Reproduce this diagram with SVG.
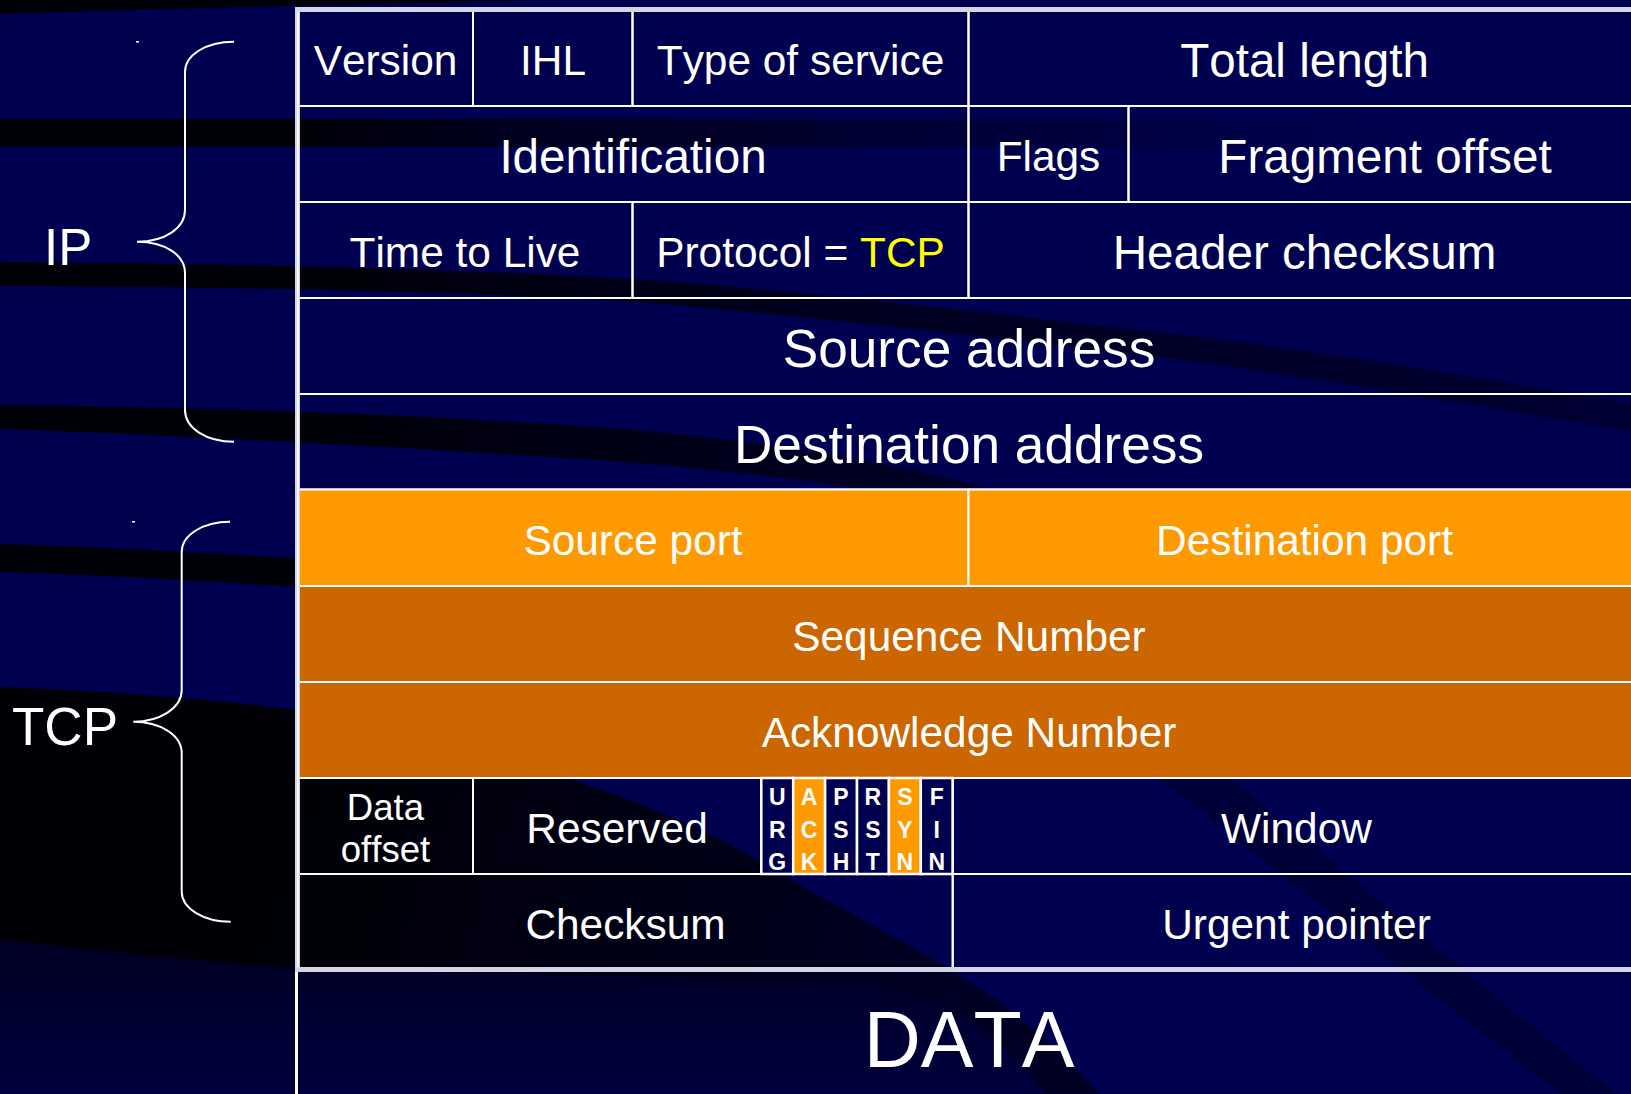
<svg xmlns="http://www.w3.org/2000/svg" width="1631" height="1094" viewBox="0 0 1631 1094">
<defs>
<style>
text{font-kerning:none}
.t{font-family:"Liberation Sans",Arial,Helvetica,sans-serif;fill:#ffffff;text-anchor:middle}
.f42{font-size:42.4px}
.f47{font-size:47.6px}
.f53{font-size:53.2px}
.fl{font-family:"Liberation Sans",Arial,Helvetica,sans-serif;font-weight:bold;font-size:23px;fill:#ffffff;text-anchor:middle}
.cell{fill:none;stroke:#ffffff;stroke-width:2}
.org{fill:#ff9900;stroke:#ffffff;stroke-width:2}
.brn{fill:#cc6600;stroke:#ffffff;stroke-width:2}
.flag{fill:#000050;stroke:#ffffff;stroke-width:2.5}
.flago{fill:#ff9900;stroke:#ffffff;stroke-width:2.5}
.brace{fill:none;stroke:#ffffff;stroke-width:2}
.lbl{font-family:"Liberation Sans",Arial,Helvetica,sans-serif;fill:#ffffff;font-size:51px}
</style>
<linearGradient id="gB" gradientUnits="userSpaceOnUse" x1="0" y1="0" x2="1400" y2="0">
<stop offset="0" stop-color="#000008" stop-opacity="1"/>
<stop offset="0.21" stop-color="#000008" stop-opacity="1"/>
<stop offset="0.35" stop-color="#000008" stop-opacity="0.7"/>
<stop offset="1" stop-color="#000008" stop-opacity="0"/>
</linearGradient>
<linearGradient id="gC" gradientUnits="userSpaceOnUse" x1="0" y1="0" x2="1640" y2="0">
<stop offset="0" stop-color="#000008" stop-opacity="1"/>
<stop offset="0.18" stop-color="#000008" stop-opacity="1"/>
<stop offset="0.4" stop-color="#000008" stop-opacity="0.75"/>
<stop offset="1" stop-color="#000008" stop-opacity="0.4"/>
</linearGradient>
<linearGradient id="gD" gradientUnits="userSpaceOnUse" x1="0" y1="0" x2="1000" y2="0">
<stop offset="0" stop-color="#000008" stop-opacity="1"/>
<stop offset="0.3" stop-color="#000008" stop-opacity="1"/>
<stop offset="1" stop-color="#000008" stop-opacity="0.55"/>
</linearGradient>
<linearGradient id="gDark" gradientUnits="userSpaceOnUse" x1="300" y1="760" x2="950" y2="1000">
<stop offset="0" stop-color="#000006"/>
<stop offset="1" stop-color="#000024"/>
</linearGradient>
<linearGradient id="gLow" gradientUnits="userSpaceOnUse" x1="0" y1="900" x2="0" y2="1094">
<stop offset="0" stop-color="#00001c"/>
<stop offset="1" stop-color="#00003e"/>
</linearGradient>
</defs>

<g id="background">
<rect x="0" y="0" width="1631" height="1094" fill="#000050"/>
<path d="M0,0 L560,0 C400,3 200,8 0,14 Z" fill="#000008"/>
<rect x="0" y="119" width="1400" height="28" fill="url(#gB)"/>
<path d="M0,262 C200,263 450,268 636,279 C800,290 1000,315 1200,337 C1400,362 1550,390 1640,405 L1640,433 C1550,418 1400,392 1200,362 C1000,338 800,315 636,302 C450,290 200,287 0,286 Z" fill="url(#gC)"/>
<path d="M0,405 C200,407 450,415 636,430 C800,445 920,468 1000,492 L880,492 C800,478 720,470 636,463 C450,450 200,436 0,429 Z" fill="url(#gD)"/>
<path d="M0,544 C100,547 200,552 320,560 L320,588 C200,581 100,575 0,572 Z" fill="#000008"/>
<path d="M0,687 C120,692 220,700 296,710 C400,725 480,750 569,779 C650,805 720,835 800,885 C870,925 930,955 990,995 C1030,1025 1070,1060 1100,1094 L0,1094 Z" fill="url(#gLow)"/>
<path d="M0,687 C120,692 220,700 296,710 C400,725 480,750 569,779 C650,805 720,835 800,885 C870,925 930,955 990,995 C1030,1025 1070,1060 1100,1094 L1045,1094 C1000,1040 960,1000 880,985 C700,975 450,975 296,968 C200,962 100,950 0,940 Z" fill="url(#gDark)"/>
<path d="M1060,700 L1135,700 L1615,1094 L1560,1094 Z" fill="#000008" opacity="0.3"/>
</g>

<g id="connectors">
<path class="brace" d="M234,41.7 C206,41.7 185,55 185,72 L185,210 C185,228 165,241.7 137,241.7 C165,241.7 185,255 185,273 L185,410 C185,428 206,441.7 234,441.7"/>
<path class="brace" d="M230,521.7 C203,521.7 181.7,535 181.7,552 L181.7,690 C181.7,708 160,721.7 133.3,721.7 C160,721.7 181.7,735 181.7,753 L181.7,891.7 C181.7,908 203,921.7 230.7,921.7"/>
<rect x="136" y="41" width="3" height="1.5" fill="#ffffff"/>
<rect x="132" y="521" width="3" height="1.5" fill="#ffffff"/>
</g>

<g id="label-ip"><text class="lbl" x="44" y="265">IP</text></g>
<g id="label-tcp"><text class="lbl" x="12" y="745" style="font-size:53px">TCP</text></g>

<g id="version"><rect class="cell" x="298" y="10" width="175" height="96"/><text class="t f42" x="385.5" y="75">Version</text></g>
<g id="ihl"><rect class="cell" x="473" y="10" width="159.5" height="96"/><text class="t f42" x="553" y="75">IHL</text></g>
<g id="tos"><rect class="cell" x="632.5" y="10" width="336" height="96"/><text class="t f42" x="800.5" y="75">Type of service</text></g>
<g id="total-length"><rect class="cell" x="968.5" y="10" width="680" height="96"/><text class="t f47" x="1304.5" y="77">Total length</text></g>

<g id="identification"><rect class="cell" x="298" y="106" width="670.5" height="96"/><text class="t f47" x="633" y="173">Identification</text></g>
<g id="flags"><rect class="cell" x="968.5" y="106" width="160" height="96"/><text class="t f42" x="1048.5" y="171">Flags</text></g>
<g id="fragment-offset"><rect class="cell" x="1128.5" y="106" width="520" height="96"/><text class="t f47" x="1385" y="173">Fragment offset</text></g>

<g id="ttl"><rect class="cell" x="298" y="202" width="334.5" height="96"/><text class="t f42" x="465" y="267">Time to Live</text></g>
<g id="protocol"><rect class="cell" x="632.5" y="202" width="336" height="96"/><text class="t f42" x="800.5" y="267">Protocol = <tspan fill="#ffff00">TCP</tspan></text></g>
<g id="header-checksum"><rect class="cell" x="968.5" y="202" width="680" height="96"/><text class="t f47" x="1304.5" y="269">Header checksum</text></g>

<g id="source-address"><rect class="cell" x="298" y="298" width="1350" height="96"/><text class="t f53" x="969" y="367">Source address</text></g>
<g id="destination-address"><rect class="cell" x="298" y="394" width="1350" height="95.5"/><text class="t f53" x="969" y="463">Destination address</text></g>

<g id="source-port"><rect class="org" x="298" y="489.5" width="670.5" height="96.5"/><text class="t f42" x="633" y="554.5">Source port</text></g>
<g id="destination-port"><rect class="org" x="968.5" y="489.5" width="680" height="96.5"/><text class="t f42" x="1304.5" y="554.5">Destination port</text></g>

<g id="sequence-number"><rect class="brn" x="298" y="586" width="1350" height="96"/><text class="t f42" x="969" y="650.5">Sequence Number</text></g>
<g id="acknowledge-number"><rect class="brn" x="298" y="682" width="1350" height="96"/><text class="t f42" x="969" y="746.5">Acknowledge Number</text></g>

<g id="data-offset"><rect class="cell" x="298" y="778" width="175" height="96"/><text class="t" x="385.5" y="819.5" style="font-size:36.6px">Data</text><text class="t" x="385.5" y="861.7" style="font-size:36.6px">offset</text></g>
<g id="reserved"><rect class="cell" x="473" y="778" width="288.3" height="96"/><text class="t f42" x="617" y="842.7">Reserved</text></g>
<g id="flag-urg"><rect class="flag" x="761.3" y="778" width="31.9" height="96"/><text class="fl" x="777.2" y="805">U</text><text class="fl" x="777.2" y="837.5">R</text><text class="fl" x="777.2" y="870">G</text></g>
<g id="flag-ack"><rect class="flago" x="793.2" y="778" width="31.9" height="96"/><text class="fl" x="809.1" y="805">A</text><text class="fl" x="809.1" y="837.5">C</text><text class="fl" x="809.1" y="870">K</text></g>
<g id="flag-psh"><rect class="flag" x="825.1" y="778" width="31.9" height="96"/><text class="fl" x="841" y="805">P</text><text class="fl" x="841" y="837.5">S</text><text class="fl" x="841" y="870">H</text></g>
<g id="flag-rst"><rect class="flag" x="857" y="778" width="31.9" height="96"/><text class="fl" x="872.9" y="805">R</text><text class="fl" x="872.9" y="837.5">S</text><text class="fl" x="872.9" y="870">T</text></g>
<g id="flag-syn"><rect class="flago" x="888.9" y="778" width="31.9" height="96"/><text class="fl" x="904.8" y="805">S</text><text class="fl" x="904.8" y="837.5">Y</text><text class="fl" x="904.8" y="870">N</text></g>
<g id="flag-fin"><rect class="flag" x="920.8" y="778" width="31.9" height="96"/><text class="fl" x="936.7" y="805">F</text><text class="fl" x="936.7" y="837.5">I</text><text class="fl" x="936.7" y="870">N</text></g>
<g id="window"><rect class="cell" x="952.7" y="778" width="695" height="96"/><text class="t f42" x="1296.5" y="842.7">Window</text></g>

<g id="checksum"><rect class="cell" x="298" y="874" width="654.7" height="95.5"/><text class="t f42" x="625.5" y="938.7">Checksum</text></g>
<g id="urgent-pointer"><rect class="cell" x="952.7" y="874" width="695" height="95.5"/><text class="t f42" x="1296.5" y="938.7">Urgent pointer</text></g>

<g id="table-border">
<rect x="297.5" y="9.5" width="1360" height="960" fill="none" stroke="#d4d4e4" stroke-width="5"/>
<line x1="297.8" y1="11.5" x2="297.8" y2="967.5" stroke="#ffffff" stroke-width="1.5"/>
</g>

<g id="data"><line x1="296.5" y1="972" x2="296.5" y2="1094" stroke="#ffffff" stroke-width="3"/><text class="t" x="969" y="1067" style="font-size:79px">DATA</text></g>
</svg>
